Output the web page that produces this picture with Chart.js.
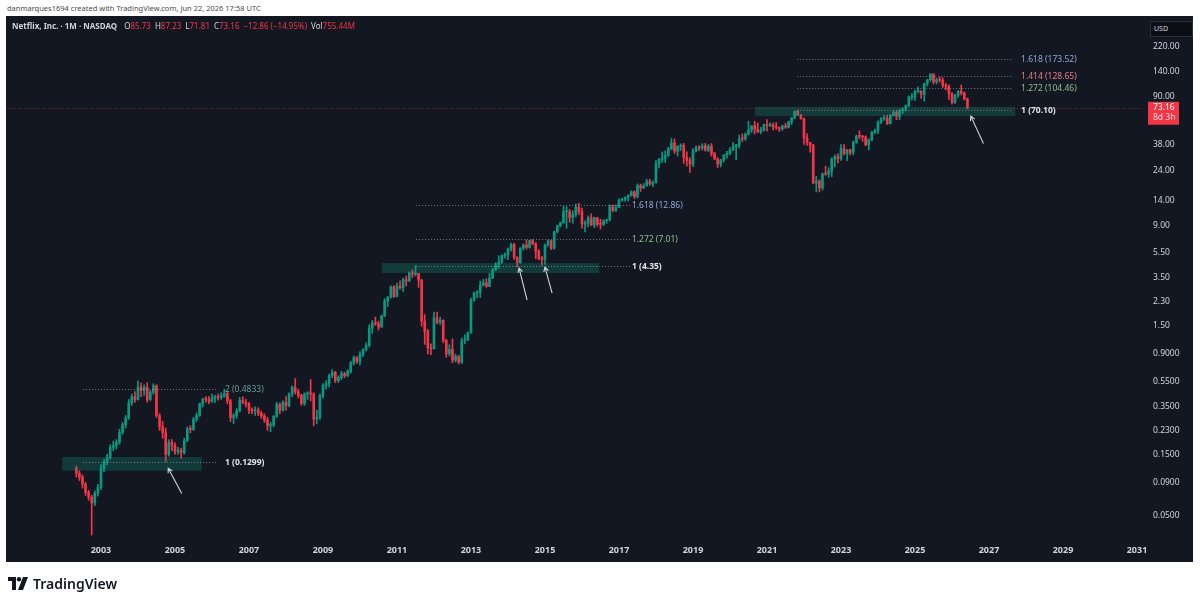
<!DOCTYPE html>
<html>
<head>
<meta charset="utf-8">
<script src="https://cdn.jsdelivr.net/npm/chart.js@4.4.1/dist/chart.umd.min.js"></script>
<style>
  html, body { margin: 0; padding: 0; background: #ffffff; }
  body { width: 1200px; height: 600px; position: relative; overflow: hidden; font-family: "Noto Sans", sans-serif; }
  #chart { position: absolute; left: 0; top: 0; }
  #credit { position: absolute; left: 7px; top: 3px; font-size: 7.5px; color: #4a4a4a; white-space: nowrap; }
  #legend { position: absolute; left: 12px; top: 20px; font-size: 8px; color: #d1d4dc; white-space: nowrap; z-index: 2; }
  #legend b { font-weight: 700; margin-right: 5px; }
  #legend .v { color: #f23645; margin-right: 4px; }
  #usd { position: absolute; left: 1150px; top: 21px; width: 38px; height: 14px; border: 1px solid #2a2e39; background: #0c0e15;
         color: #d1d4dc; font-size: 7px; line-height: 14px; padding-left: 3px; z-index: 2; }
  #brand { position: absolute; left: 8px; top: 574px; display: flex; align-items: center; gap: 4px;
           font-size: 14px; font-weight: 600; color: #131722; }
</style>
</head>
<body>
<div id="credit">danmarques1694 created with TradingView.com, Jun 22, 2026 17:58 UTC</div>
<div id="legend"><b>Netflix, Inc. · 1M · NASDAQ</b> O<span class="v">85.73</span>H<span class="v">87.23</span>L<span class="v">71.81</span>C<span class="v">73.16</span><span class="v">−12.86 (−14.95%)</span>Vol<span class="v">755.44M</span></div>
<div id="usd">USD</div>
<canvas id="chart" width="1200" height="600"></canvas>
<div id="brand">
  <svg width="21" height="13" viewBox="0 0 21 13"><path d="M0 0h8v13H4V4H0z" fill="#131722"/><circle cx="11" cy="2.2" r="2.2" fill="#131722"/><path d="M15 0h5l-5 13h-5z" fill="#131722"/></svg>
  <span>TradingView</span>
</div>
<script>
// monthly candles [open, high, low, close], first one is May 2002
// x position = months counted from Jan 2003
const startMonth = -8;
const candles = [
  // 2002
  [0.117, 0.122, 0.100, 0.107], [0.107, 0.112, 0.094, 0.100], [0.100, 0.104, 0.082, 0.088], [0.088, 0.091, 0.072, 0.076],
  [0.076, 0.079, 0.066, 0.070], [0.070, 0.072, 0.0355, 0.063], [0.063, 0.078, 0.060, 0.075], [0.075, 0.088, 0.071, 0.083],
  // 2003
  [0.083, 0.125, 0.080, 0.117], [0.117, 0.138, 0.110, 0.132], [0.132, 0.150, 0.125, 0.142], [0.142, 0.178, 0.138, 0.170],
  [0.170, 0.190, 0.160, 0.176], [0.176, 0.195, 0.165, 0.186], [0.186, 0.235, 0.180, 0.222], [0.222, 0.265, 0.215, 0.255],
  [0.255, 0.300, 0.240, 0.285], [0.285, 0.400, 0.280, 0.375], [0.375, 0.440, 0.360, 0.420], [0.420, 0.460, 0.380, 0.400],
  // 2004
  [0.400, 0.555, 0.395, 0.500], [0.500, 0.535, 0.420, 0.470], [0.470, 0.520, 0.430, 0.495], [0.495, 0.540, 0.380, 0.400],
  [0.400, 0.470, 0.390, 0.455], [0.455, 0.530, 0.440, 0.510], [0.510, 0.520, 0.290, 0.300], [0.300, 0.310, 0.230, 0.245],
  [0.245, 0.270, 0.200, 0.220], [0.220, 0.240, 0.132, 0.150], [0.150, 0.195, 0.145, 0.185], [0.185, 0.195, 0.160, 0.176],
  // 2005
  [0.176, 0.185, 0.150, 0.157], [0.157, 0.170, 0.150, 0.162], [0.162, 0.168, 0.140, 0.155], [0.155, 0.200, 0.150, 0.192],
  [0.192, 0.245, 0.188, 0.237], [0.237, 0.250, 0.220, 0.234], [0.234, 0.290, 0.230, 0.280], [0.280, 0.315, 0.270, 0.300],
  [0.300, 0.375, 0.295, 0.370], [0.370, 0.410, 0.350, 0.400], [0.400, 0.420, 0.380, 0.398], [0.398, 0.420, 0.370, 0.387],
  // 2006
  [0.387, 0.440, 0.380, 0.410], [0.410, 0.430, 0.380, 0.420], [0.420, 0.440, 0.395, 0.414], [0.414, 0.450, 0.400, 0.425],
  [0.425, 0.480, 0.415, 0.445], [0.445, 0.460, 0.370, 0.390], [0.390, 0.400, 0.270, 0.290], [0.290, 0.310, 0.260, 0.300],
  [0.300, 0.340, 0.285, 0.326], [0.326, 0.415, 0.320, 0.395], [0.395, 0.420, 0.370, 0.380], [0.380, 0.400, 0.350, 0.370],
  // 2007
  [0.370, 0.380, 0.310, 0.330], [0.330, 0.345, 0.310, 0.327], [0.327, 0.350, 0.300, 0.331], [0.331, 0.345, 0.300, 0.312],
  [0.312, 0.325, 0.285, 0.297], [0.297, 0.310, 0.265, 0.277], [0.277, 0.290, 0.230, 0.250], [0.250, 0.265, 0.225, 0.252],
  [0.252, 0.300, 0.245, 0.296], [0.296, 0.380, 0.290, 0.365], [0.365, 0.375, 0.310, 0.330], [0.330, 0.390, 0.325, 0.380],
  // 2008
  [0.380, 0.420, 0.330, 0.357], [0.357, 0.450, 0.350, 0.440], [0.440, 0.510, 0.420, 0.495], [0.495, 0.580, 0.440, 0.457],
  [0.457, 0.480, 0.410, 0.430], [0.430, 0.440, 0.360, 0.372], [0.372, 0.450, 0.360, 0.441], [0.441, 0.460, 0.400, 0.446],
  [0.446, 0.570, 0.390, 0.441], [0.441, 0.450, 0.250, 0.282], [0.282, 0.330, 0.260, 0.290], [0.290, 0.440, 0.280, 0.427],
  // 2009
  [0.427, 0.530, 0.410, 0.516], [0.516, 0.560, 0.480, 0.531], [0.531, 0.630, 0.500, 0.613], [0.613, 0.680, 0.590, 0.649],
  [0.649, 0.660, 0.540, 0.560], [0.560, 0.610, 0.540, 0.590], [0.590, 0.660, 0.570, 0.634], [0.634, 0.650, 0.590, 0.613],
  [0.613, 0.680, 0.600, 0.660], [0.660, 0.790, 0.640, 0.766], [0.766, 0.870, 0.740, 0.843], [0.843, 0.860, 0.760, 0.789],
  // 2010
  [0.789, 0.940, 0.740, 0.891], [0.891, 0.990, 0.860, 0.970], [0.970, 1.100, 0.950, 1.053], [1.053, 1.520, 1.020, 1.429],
  [1.429, 1.640, 1.300, 1.560], [1.560, 1.740, 1.500, 1.553], [1.553, 1.620, 1.380, 1.457], [1.457, 1.800, 1.450, 1.783],
  [1.783, 2.410, 1.750, 2.317], [2.317, 2.520, 2.100, 2.471], [2.471, 3.040, 2.450, 2.990], [2.990, 3.050, 2.470, 2.510],
  // 2011
  [2.510, 3.200, 2.500, 3.030], [3.030, 3.330, 2.860, 2.940], [2.940, 3.500, 2.750, 3.390], [3.390, 3.630, 3.030, 3.320],
  [3.320, 3.900, 3.280, 3.830], [3.830, 4.050, 3.530, 3.750], [3.750, 4.354, 3.630, 3.790], [3.790, 3.800, 2.960, 3.364],
  [3.364, 3.420, 1.480, 1.619], [1.619, 1.820, 1.070, 1.347], [1.347, 1.400, 0.900, 1.005], [1.005, 1.080, 0.890, 0.990],
  // 2012
  [0.990, 1.900, 0.980, 1.717], [1.717, 1.900, 1.540, 1.581], [1.581, 1.740, 1.520, 1.643], [1.643, 1.660, 1.100, 1.144],
  [1.144, 1.170, 0.850, 0.906], [0.906, 1.060, 0.870, 0.979], [0.979, 1.180, 0.770, 0.807], [0.807, 0.900, 0.780, 0.863],
  [0.863, 0.880, 0.754, 0.778], [0.778, 1.200, 0.760, 1.141], [1.141, 1.270, 1.080, 1.166], [1.166, 1.330, 1.140, 1.323],
  // 2013
  [1.323, 2.440, 1.300, 2.370], [2.370, 2.720, 2.300, 2.689], [2.689, 2.800, 2.450, 2.704], [2.704, 3.310, 2.470, 3.089],
  [3.089, 3.420, 3.040, 3.217], [3.217, 3.450, 2.970, 3.016], [3.016, 3.800, 2.990, 3.490], [3.490, 4.150, 3.460, 4.051],
  [4.051, 4.600, 4.000, 4.417], [4.417, 5.200, 4.150, 4.623], [4.623, 5.290, 4.550, 5.226], [5.226, 5.460, 4.990, 5.260],
  // 2014
  [5.260, 5.980, 4.850, 5.851], [5.851, 6.530, 5.650, 6.366], [6.366, 6.500, 4.880, 5.029], [5.029, 5.130, 4.280, 4.600],
  [4.600, 6.000, 4.550, 5.969], [5.969, 6.440, 5.750, 6.294], [6.294, 6.900, 5.840, 6.039], [6.039, 6.870, 5.950, 6.823],
  [6.823, 6.960, 6.320, 6.446], [6.446, 6.600, 4.950, 5.617], [5.617, 5.830, 4.830, 4.941], [4.941, 5.160, 4.400, 4.880],
  // 2015
  [4.880, 6.400, 4.450, 6.311], [6.311, 6.900, 6.150, 6.780], [6.780, 6.900, 5.800, 5.953], [5.953, 8.100, 5.850, 7.960],
  [7.960, 9.000, 7.850, 8.913], [8.913, 9.500, 8.700, 9.384], [9.384, 12.600, 9.300, 11.431], [11.431, 12.500, 8.500, 11.500],
  [11.500, 11.900, 9.500, 10.326], [10.326, 11.600, 9.300, 10.838], [10.838, 13.100, 10.400, 12.383], [12.383, 13.300, 10.900, 11.438],
  // 2016
  [11.438, 12.200, 8.500, 9.183], [9.183, 9.700, 7.960, 9.340], [9.340, 10.600, 8.700, 10.223], [10.223, 11.000, 8.900, 9.008],
  [9.008, 10.400, 8.600, 10.260], [10.260, 10.350, 8.800, 9.148], [9.148, 10.000, 8.400, 9.128], [9.128, 9.900, 8.900, 9.745],
  [9.745, 10.000, 9.300, 9.855], [9.855, 12.900, 9.700, 12.487], [12.487, 12.900, 11.400, 11.700], [11.700, 12.900, 11.500, 12.380],
  // 2017
  [12.380, 14.400, 12.300, 14.065], [14.065, 14.500, 13.800, 14.210], [14.210, 14.900, 13.800, 14.781], [14.781, 15.500, 13.800, 15.220],
  [15.220, 16.600, 15.100, 16.307], [16.307, 16.600, 14.400, 14.941], [14.941, 18.800, 14.600, 18.168], [18.168, 18.700, 16.400, 17.470],
  [17.470, 18.900, 17.200, 18.135], [18.135, 20.400, 18.000, 19.641], [19.641, 20.400, 18.300, 18.759], [18.759, 19.800, 17.900, 19.196],
  // 2018
  [19.196, 28.600, 19.000, 27.030], [27.030, 29.700, 25.000, 29.138], [29.138, 33.300, 27.600, 29.535], [29.535, 33.900, 27.500, 31.248],
  [31.248, 36.100, 30.700, 35.160], [35.160, 42.300, 34.600, 39.143], [39.143, 41.900, 32.300, 33.745], [33.745, 37.200, 31.000, 36.763],
  [36.763, 38.400, 34.100, 37.413], [37.413, 38.700, 27.100, 30.178], [30.178, 33.300, 25.800, 28.614], [28.614, 29.900, 23.100, 26.766],
  // 2019
  [26.766, 35.300, 25.600, 33.945], [33.945, 37.100, 33.300, 35.810], [35.810, 37.300, 34.000, 35.656], [35.656, 38.500, 34.400, 37.054],
  [37.054, 38.700, 33.700, 34.330], [34.330, 38.000, 33.400, 36.732], [36.732, 38.600, 30.800, 32.300], [32.300, 33.000, 28.900, 29.376],
  [29.376, 30.000, 25.200, 26.762], [26.762, 29.200, 25.400, 28.742], [28.742, 31.800, 27.800, 31.466], [31.466, 33.600, 29.700, 32.357],
  // 2020
  [32.357, 35.900, 31.500, 34.509], [34.509, 39.300, 34.000, 36.900], [36.900, 38.000, 29.000, 37.550], [37.550, 44.900, 35.700, 41.985],
  [41.985, 45.900, 40.000, 41.969], [41.969, 46.800, 40.800, 45.504], [45.504, 57.500, 45.000, 48.890], [48.890, 53.000, 47.000, 52.960],
  [52.960, 57.500, 45.800, 50.003], [50.003, 55.700, 47.000, 47.574], [47.574, 51.700, 46.100, 49.066], [49.066, 54.700, 48.200, 54.073],
  // 2021
  [54.073, 59.300, 48.100, 53.241], [53.241, 56.000, 52.300, 53.885], [53.885, 55.700, 49.300, 52.166], [52.166, 56.300, 49.600, 51.345],
  [51.345, 52.000, 47.900, 50.281], [50.281, 53.600, 48.700, 52.821], [52.821, 55.500, 50.400, 51.755], [51.755, 57.400, 51.000, 56.920],
  [56.920, 61.600, 54.300, 61.034], [61.034, 69.000, 60.300, 69.027], [69.027, 70.099, 63.900, 64.188], [64.188, 64.800, 59.600, 60.243],
  // 2022
  [60.243, 60.900, 38.000, 42.711], [42.711, 45.900, 37.300, 39.447], [39.447, 39.500, 33.100, 37.459], [37.459, 38.100, 18.800, 19.040],
  [19.040, 21.500, 16.270, 19.741], [19.741, 20.300, 16.300, 17.487], [17.487, 22.800, 16.800, 22.492], [22.492, 25.800, 21.900, 22.360],
  [22.360, 25.100, 21.100, 23.544], [23.544, 30.000, 21.400, 29.191], [29.191, 31.600, 25.500, 30.552], [30.552, 32.200, 27.300, 29.488],
  // 2023
  [29.488, 37.900, 28.600, 35.388], [35.388, 37.900, 31.500, 32.214], [32.214, 34.600, 28.500, 34.548], [34.548, 35.000, 31.500, 32.992],
  [32.992, 40.500, 31.500, 39.521], [39.521, 44.900, 38.800, 44.049], [44.049, 48.500, 42.000, 43.897], [43.897, 44.700, 40.100, 43.372],
  [43.372, 44.300, 37.100, 37.760], [37.760, 42.100, 34.400, 41.169], [41.169, 48.000, 40.500, 47.400], [47.400, 50.000, 46.100, 48.688],
  // 2024
  [48.688, 57.900, 46.100, 56.413], [56.413, 61.500, 55.000, 60.288], [60.288, 63.900, 58.300, 60.733], [60.733, 63.900, 54.200, 55.061],
  [55.061, 65.000, 54.800, 64.164], [64.164, 69.700, 63.000, 67.488], [67.488, 69.700, 59.200, 62.835], [62.835, 71.000, 59.200, 70.135],
  [70.135, 72.900, 65.800, 70.926], [70.926, 77.000, 69.000, 75.604], [75.604, 90.300, 74.700, 88.683], [88.683, 94.100, 83.800, 89.133],
  // 2025
  [89.133, 100.00, 83.300, 97.678], [97.678, 106.40, 95.500, 98.060], [98.060, 99.500, 86.500, 93.252], [93.252, 113.50, 82.200, 113.17],
  [113.17, 121.00, 108.00, 120.75], [120.75, 134.10, 117.50, 133.91], [133.91, 134.00, 112.00, 115.94], [115.94, 124.50, 112.00, 120.80],
  [120.80, 126.50, 115.50, 119.89], [119.89, 125.00, 105.00, 108.90], [108.90, 113.00, 100.50, 107.00], [107.00, 110.00, 85.000, 94.000],
  // 2026
  [94.000, 96.000, 78.000, 80.500], [80.500, 93.000, 79.000, 91.000], [91.000, 99.500, 88.000, 98.000], [98.000, 110.00, 92.000, 95.000],
  [95.000, 97.000, 84.000, 85.730], [85.730, 87.230, 71.810, 73.160]
];

const yearTickMonths = [0, 24, 48, 72, 96, 120, 144, 168, 192, 216, 240, 264, 288, 312, 336];
const yearLabels = ['2003', '2005', '2007', '2009', '2011', '2013', '2015', '2017', '2019', '2021', '2023', '2025', '2027', '2029', '2031'];
const priceTicks = [220, 140, 90, 38, 24, 14, 9, 5.5, 3.5, 2.3, 1.5, 0.9, 0.55, 0.35, 0.23, 0.15, 0.09, 0.05];

const lastPrice = 73.16;
const lastPriceCountdown = '8d 3h';

// fib extension levels: [ratio, price]
const fib2002 = [['1', 0.1299], ['2', 0.4833]];
const fib2011 = [['1', 4.35], ['1.272', 7.01], ['1.618', 12.86]];
const fib2021 = [['1', 70.10], ['1.272', 104.46], ['1.414', 128.65], ['1.618', 173.52]];

const UP = '#089981';
const DOWN = '#f23645';

// drawing placement (month index / price)
const fibDrawings = [
  { levels: fib2002, from: -5.8, to: 37.6, labelAt: 40.2, zone: [-12.6, 32.7, 0.143, 0.112] },
  { levels: fib2011, from: 102.2, to: 171.6, labelAt: 172.2, zone: [91.1, 161.5, 4.57, 3.82] },
  { levels: fib2021, from: 225.8, to: 295.8, labelAt: 298.4, zone: [212.1, 296.5, 74.5, 63.0] }
];
const arrows = [
  [[26.2, 0.0745], [21.8, 0.1168]],
  [[138.2, 2.36], [135.6, 4.18]],
  [[146.3, 2.67], [144.0, 4.25]],
  [[286.2, 38.7], [282.1, 63.0]]
];
const levelColors = { '1': '#e0e3eb', '1.272': '#8fbf8a', '1.414': '#e57f84', '1.618': '#91a7d6', '2': '#5f9e94' };

function fmtPrice(v) {
  return v < 1 ? v.toFixed(4) : v.toFixed(2);
}

const candleColors = candles.map(c => c[3] >= c[0] ? UP : DOWN);
const FONT = '"Noto Sans", sans-serif';

const panelPlugin = {
  id: 'panel',
  beforeDraw(chart) {
    const ctx = chart.ctx;
    ctx.save();
    ctx.fillStyle = '#131722';
    ctx.fillRect(6, 16, 1187, 546);
    ctx.restore();
  }
};

const drawingsPlugin = {
  id: 'drawings',
  afterDatasetsDraw(chart) {
    const ctx = chart.ctx;
    const xs = chart.scales.x, ys = chart.scales.y;
    const area = chart.chartArea;
    ctx.save();

    // last price line
    const py = ys.getPixelForValue(lastPrice);
    ctx.strokeStyle = 'rgba(242,54,69,0.5)';
    ctx.lineWidth = 1;
    ctx.setLineDash([1, 2]);
    ctx.beginPath();
    ctx.moveTo(area.left, Math.round(py) + 0.5);
    ctx.lineTo(area.right, Math.round(py) + 0.5);
    ctx.stroke();

    fibDrawings.forEach(d => {
      const z = d.zone;
      const zx1 = xs.getPixelForValue(z[0]), zx2 = xs.getPixelForValue(z[1]);
      const zy1 = ys.getPixelForValue(z[2]), zy2 = ys.getPixelForValue(z[3]);
      ctx.fillStyle = 'rgba(16,160,128,0.26)';
      ctx.fillRect(zx1, zy1, zx2 - zx1, zy2 - zy1);

      const x1 = xs.getPixelForValue(d.from), x2 = xs.getPixelForValue(d.to);
      const lx = xs.getPixelForValue(d.labelAt);
      d.levels.forEach(([ratio, price]) => {
        const y = Math.round(ys.getPixelForValue(price)) + 0.5;
        ctx.strokeStyle = 'rgba(150,154,165,0.75)';
        ctx.setLineDash([1, 2]);
        ctx.beginPath();
        ctx.moveTo(x1, y);
        ctx.lineTo(x2, y);
        ctx.stroke();
        ctx.fillStyle = levelColors[ratio];
        ctx.font = (ratio === '1' ? '700 ' : '400 ') + '8.5px ' + FONT;
        ctx.textBaseline = 'middle';
        ctx.textAlign = 'left';
        ctx.fillText(ratio + ' (' + fmtPrice(price) + ')', lx, y);
      });
    });

    // arrows
    ctx.setLineDash([]);
    ctx.strokeStyle = '#d1d4dc';
    ctx.lineWidth = 1.1;
    arrows.forEach(([from, to]) => {
      const fx = xs.getPixelForValue(from[0]), fy = ys.getPixelForValue(from[1]);
      const tx = xs.getPixelForValue(to[0]), ty = ys.getPixelForValue(to[1]);
      const ang = Math.atan2(ty - fy, tx - fx);
      ctx.beginPath();
      ctx.moveTo(fx, fy);
      ctx.lineTo(tx, ty);
      ctx.moveTo(tx - 5 * Math.cos(ang - 0.5), ty - 5 * Math.sin(ang - 0.5));
      ctx.lineTo(tx, ty);
      ctx.lineTo(tx - 5 * Math.cos(ang + 0.5), ty - 5 * Math.sin(ang + 0.5));
      ctx.stroke();
    });
    ctx.restore();
  },
  afterDraw(chart) {
    const ctx = chart.ctx;
    const ys = chart.scales.y;
    const area = chart.chartArea;
    const py = ys.getPixelForValue(lastPrice);
    ctx.save();
    ctx.fillStyle = '#f23645';
    ctx.fillRect(area.right + 7, py - 6, 31, 23);
    ctx.font = '8.5px ' + FONT;
    ctx.textBaseline = 'middle';
    ctx.textAlign = 'left';
    ctx.fillStyle = '#ffffff';
    ctx.fillText(lastPrice.toFixed(2), area.right + 12, py);
    ctx.fillStyle = '#ffd6da';
    ctx.fillText(lastPriceCountdown, area.right + 12, py + 10);
    ctx.restore();
  }
};

new Chart(document.getElementById('chart'), {
  type: 'bar',
  data: {
    datasets: [
      {
        label: 'wick',
        data: candles.map((c, i) => ({ x: startMonth + i, y: [c[2], c[1]] })),
        backgroundColor: candleColors,
        barThickness: 1,
        maxBarThickness: 1,
        grouped: false,
        order: 2
      },
      {
        label: 'body',
        data: candles.map((c, i) => ({ x: startMonth + i, y: [c[0], c[3]] })),
        backgroundColor: candleColors,
        barThickness: 2,
        maxBarThickness: 2,
        minBarLength: 1,
        grouped: false,
        order: 1
      }
    ]
  },
  options: {
    responsive: false,
    animation: false,
    devicePixelRatio: 1,
    layout: { padding: { left: 6, right: 7, top: 17, bottom: 38 } },
    plugins: { legend: { display: false }, tooltip: { enabled: false } },
    scales: {
      x: {
        type: 'linear',
        min: -30.8,
        max: 337.3,
        offset: false,
        bounds: 'data',
        grid: { display: false, drawTicks: false },
        border: { display: false },
        afterBuildTicks: s => { s.ticks = yearTickMonths.map(v => ({ value: v })); },
        afterFit: s => { s.height = 22; },
        ticks: {
          autoSkip: false,
          maxRotation: 0,
          padding: 5,
          color: '#d1d4dc',
          font: { family: FONT, size: 9, weight: '700' },
          callback: v => yearLabels[yearTickMonths.indexOf(v)]
        }
      },
      y: {
        type: 'logarithmic',
        position: 'right',
        min: 0.03249,
        max: 369.4,
        bounds: 'data',
        beginAtZero: false,
        grid: { display: false, drawTicks: false },
        border: { display: false },
        afterBuildTicks: s => { s.ticks = priceTicks.map(v => ({ value: v })); },
        afterFit: s => { s.width = 52; },
        ticks: {
          autoSkip: false,
          padding: 12,
          color: '#d1d4dc',
          font: { family: FONT, size: 8.5 },
          callback: v => fmtPrice(v)
        }
      }
    }
  },
  plugins: [panelPlugin, drawingsPlugin]
});
</script>
</body>
</html>
